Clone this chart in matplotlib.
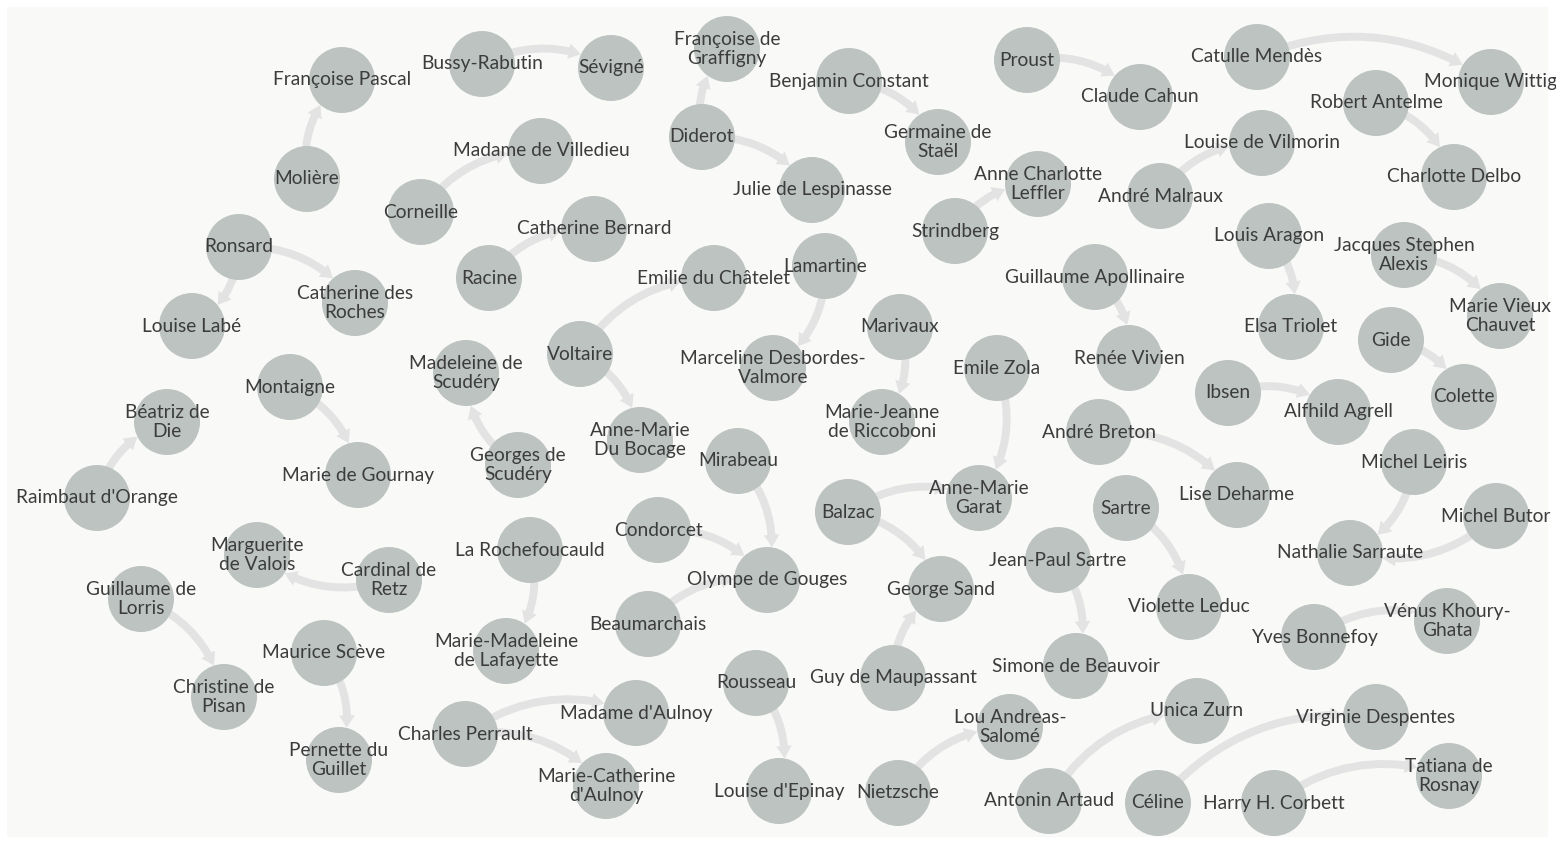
import matplotlib
matplotlib.use("Agg")
import matplotlib.pyplot as plt
from matplotlib.patches import Circle, FancyArrowPatch, Rectangle

# Noeuds (auteurs) et positions (px)
names = [
    "Françoise Pascal", "Bussy-Rabutin", "Sévigné", "Françoise de\nGraffigny",
    "Benjamin Constant", "Proust", "Claude Cahun", "Catulle Mendès",
    "Monique Wittig", "Robert Antelme", "Charlotte Delbo", "Molière",
    "Corneille", "Madame de Villedieu", "Diderot", "Julie de Lespinasse",
    "Germaine de\nStaël", "Louise de Vilmorin", "André Malraux",
    "Anne Charlotte\nLeffler", "Strindberg", "Louis Aragon",
    "Jacques Stephen\nAlexis", "Marie Vieux\nChauvet", "Elsa Triolet",
    "Guillaume Apollinaire", "Ronsard", "Catherine des\nRoches", "Louise Labé",
    "Racine", "Catherine Bernard", "Emilie du Châtelet", "Lamartine",
    "Voltaire", "Marceline Desbordes-\nValmore", "Marivaux",
    "Marie-Jeanne\nde Riccoboni", "Madeleine de\nScudéry", "Montaigne",
    "Béatriz de\nDie", "Marie de Gournay", "Raimbaut d'Orange",
    "Georges de\nScudéry", "Anne-Marie\nDu Bocage", "Mirabeau", "Emile Zola",
    "Renée Vivien", "Ibsen", "Alfhild Agrell", "Gide", "Colette",
    "André Breton", "Lise Deharme", "Michel Leiris", "Michel Butor",
    "Nathalie Sarraute", "Sartre", "Anne-Marie\nGarat", "Balzac",
    "Jean-Paul Sartre", "George Sand", "Violette Leduc", "Yves Bonnefoy",
    "Vénus Khoury-\nGhata", "Simone de Beauvoir", "Marguerite\nde Valois",
    "Cardinal de\nRetz", "La Rochefoucauld", "Condorcet", "Olympe de Gouges",
    "Guillaume de\nLorris", "Beaumarchais", "Marie-Madeleine\nde Lafayette",
    "Maurice Scève", "Christine de\nPisan", "Rousseau", "Guy de Maupassant",
    "Madame d'Aulnoy", "Charles Perrault", "Pernette du\nGuillet",
    "Lou Andreas-\nSalomé", "Unica Zurn", "Virginie Despentes",
    "Tatiana de\nRosnay", "Marie-Catherine\nd'Aulnoy", "Louise d'Epinay",
    "Nietzsche", "Antonin Artaud", "Céline", "Harry H. Corbett",
]
xs = [342, 482, 611, 727, 849, 1027, 1140, 1257, 1491, 1376, 1454, 307,
      421, 541, 702, 812, 938, 1262, 1160, 1038, 955, 1269, 1404, 1500, 1291,
      1095, 239, 355, 192, 489, 594, 714, 825, 580, 773, 900, 882, 466, 290,
      167, 358, 97, 518, 640, 738, 997, 1129, 1228, 1338, 1391, 1464, 1099,
      1237, 1414, 1496, 1350, 1126, 979, 848, 1058, 941, 1189, 1314, 1447,
      1076, 257, 389, 530, 658, 767, 141, 648, 506, 324, 224, 756, 893, 636,
      465, 339, 1010, 1197, 1376, 1449, 606, 779, 898, 1049, 1158, 1274]
ys = [80, 64, 68, 49, 81, 60, 97, 57, 82, 103, 177, 179, 212, 151, 137,
      190, 142, 143, 196, 184, 231, 236, 255, 316, 327, 277, 247, 303, 326,
      278, 229, 278, 266, 354, 368, 327, 422, 373, 387, 422, 475, 498, 465,
      440, 461, 368, 358, 393, 412, 340, 397, 432, 495, 462, 516, 553, 508,
      498, 512, 560, 589, 607, 637, 621, 666, 555, 580, 550, 530, 580, 599,
      624, 651, 653, 697, 683, 678, 713, 734, 760, 727, 711, 717, 776, 786,
      791, 793, 801, 803, 803]

# Liens (source -> cible), par indice dans names
sources = [11, 1, 14, 14, 4, 5, 7, 9, 12, 18, 20, 21, 22, 25, 26, 26, 29,
           33, 33, 32, 35, 42, 38, 41, 45, 47, 49, 51, 53, 54, 56, 58, 58,
           59, 62, 66, 67, 68, 44, 71, 70, 73, 75, 76, 78, 78, 86, 87, 88, 89]
targets = [0, 2, 3, 15, 16, 6, 8, 10, 13, 17, 19, 24, 23, 46, 28, 27, 30,
           31, 43, 34, 36, 37, 40, 39, 57, 48, 50, 52, 55, 55, 61, 57, 60,
           64, 63, 65, 72, 69, 69, 69, 74, 79, 85, 60, 77, 84, 80, 81, 82, 83]

W, H = 1556, 842
R = 33
node_color = "#bcc3c1"
link_color = "#e2e3e2"
text_color = "#3c3c3c"

fig = plt.figure(figsize=(W / 100, H / 100), dpi=100)
ax = fig.add_axes([0, 0, 1, 1])
ax.set_xlim(0, W)
ax.set_ylim(H, 0)
ax.axis("off")
fig.patch.set_facecolor("white")
ax.add_patch(Rectangle((7, 7), W - 15, H - 12, facecolor="#f9f9f8",
                       edgecolor="none", zorder=0))

px2pt = 72 / 100
for s, t in zip(sources, targets):
    arr = FancyArrowPatch((xs[s], ys[s]), (xs[t], ys[t]),
                          connectionstyle="arc3,rad=-0.27",
                          arrowstyle="simple,head_length=0.6,head_width=0.75,tail_width=0.38",
                          mutation_scale=15, color=link_color, lw=0,
                          shrinkA=0, shrinkB=R * px2pt, zorder=1)
    ax.add_patch(arr)

for name, x, y in zip(names, xs, ys):
    ax.add_patch(Circle((x, y), R, facecolor=node_color, edgecolor="none", zorder=2))
    ax.text(x, y, name, ha="center", va="center", fontsize=13.8,
            family="Lato", color=text_color, linespacing=1.18, zorder=3)

fig.savefig("out.png", dpi=100, facecolor="white")
